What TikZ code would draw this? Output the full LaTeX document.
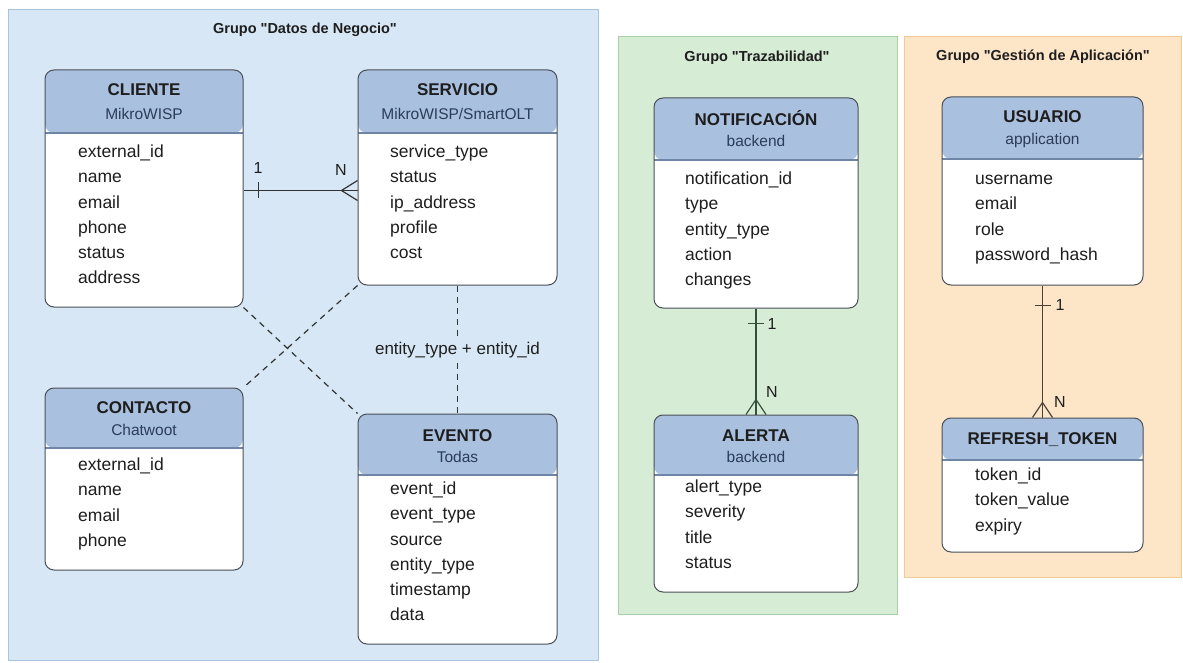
\documentclass[tikz,border=0pt]{standalone}
\usepackage{fontspec}
\setmainfont{Liberation Sans}
\usetikzlibrary{fit}
\definecolor{bluebg}{HTML}{D7E7F5}
\definecolor{blueedge}{HTML}{A9C5DE}
\definecolor{greenbg}{HTML}{D6ECD4}
\definecolor{greenedge}{HTML}{A9D0A6}
\definecolor{orangebg}{HTML}{FDE5C8}
\definecolor{orangeedge}{HTML}{F1C996}
\definecolor{headfill}{HTML}{A9C0DF}
\definecolor{headline}{HTML}{6E85A6}
\definecolor{boxline}{HTML}{4A4F57}
\definecolor{txt}{HTML}{1E1E1E}
\definecolor{subtxt}{HTML}{2B3C58}
\definecolor{rel}{HTML}{333333}
\definecolor{relgreen}{HTML}{35503A}
\definecolor{relbrown}{HTML}{4A4036}
\tikzset{
  group/.style={line width=1pt},
  grouptitle/.style={font=\fontsize{14.5}{16}\selectfont\bfseries, text=txt},
  entbox/.style={draw=boxline, line width=1pt, rounded corners=9pt, fill=white, inner sep=0pt,
    path picture={\fill[headfill] (path picture bounding box.north west) rectangle ([yshift=-#1]path picture bounding box.north east);
      \draw[headline, line width=1.6pt] ([yshift=-#1]path picture bounding box.north west) -- ([yshift=-#1]path picture bounding box.north east);}},
  enttitle/.style={font=\fontsize{17}{19}\selectfont\bfseries, text=txt},
  entsub/.style={font=\fontsize{15.5}{17}\selectfont, text=subtxt},
  field/.style={font=\fontsize{17.5}{19}\selectfont, text=txt, anchor=mid west, inner sep=0pt},
  relline/.style={draw=rel, line width=1.2pt},
  dashline/.style={draw=rel, line width=1.2pt, dash pattern=on 6pt off 5pt},
  card/.style={font=\fontsize{16}{18}\selectfont, text=txt, inner sep=1pt}
}
% #1 name, #2 left, #3 top, #4 right, #5 bottom, #6 header height
\newcommand\mkentity[6]{\node[entbox=#6pt, fit={(#2,#3) (#4,#5)}] (#1) {};}
% #1 x, #2 first y, #3 list
\newcommand\mkfields[3]{\foreach \f [count=\i from 0] in {#3} {\node[field] at (#1,{#2+25.2*\i}) {\f};}}
\begin{document}
\begin{tikzpicture}[x=1pt,y=-1pt]
\useasboundingbox (0,0) rectangle (1183,663);
\fill[white] (0,0) rectangle (1183,663);
% groups
\draw[group, fill=bluebg, draw=blueedge] (8,10) rectangle (598,660);
\node[grouptitle] (gt1) at (305,30) {Grupo \textquotedbl Datos de Negocio\textquotedbl};
\draw[group, fill=greenbg, draw=greenedge] (618,37) rectangle (897,614);
\node[grouptitle] (gt2) at (757,58) {Grupo \textquotedbl Trazabilidad\textquotedbl};
\draw[group, fill=orangebg, draw=orangeedge] (904,37) rectangle (1181,577);
\node[grouptitle] (gt3) at (1043,57) {Grupo \textquotedbl Gestión de Aplicación\textquotedbl};

% entities
\mkentity{cliente}{45}{70}{243}{307}{63}
\node[enttitle] (clienteT) at (144,90) {CLIENTE};
\node[entsub] (clienteS) at (144,114) {MikroWISP};
\mkfields{78}{155}{external\_id,name,email,phone,status,address}

\mkentity{servicio}{358}{70}{557}{285}{63}
\node[enttitle] (servicioT) at (457.5,90) {SERVICIO};
\node[entsub] (servicioS) at (457.5,114) {MikroWISP/SmartOLT};
\mkfields{390}{155}{service\_type,status,ip\_address,profile,cost}

\mkentity{contacto}{45}{388}{243}{570}{60}
\node[enttitle] (contactoT) at (144,408) {CONTACTO};
\node[entsub] (contactoS) at (144,430) {Chatwoot};
\mkfields{78}{468}{external\_id,name,email,phone}

\mkentity{evento}{358}{414}{557}{644}{61}
\node[enttitle] (eventoT) at (457.5,436) {EVENTO};
\node[entsub] (eventoS) at (457.5,457) {Todas};
\mkfields{390}{492}{event\_id,event\_type,source,entity\_type,timestamp,data}

\mkentity{notif}{654}{98}{858}{308}{62}
\node[enttitle] (notifT) at (756,118) {NOTIFICACIÓN};
\node[entsub] (notifS) at (756,141) {backend};
\mkfields{685}{182}{notification\_id,type,entity\_type,action,changes}

\mkentity{alerta}{654}{415}{858}{592}{60}
\node[enttitle] (alertaT) at (756,436) {ALERTA};
\node[entsub] (alertaS) at (756,457) {backend};
\mkfields{685}{490}{alert\_type,severity,title,status}

\mkentity{usuario}{942}{97}{1143}{285}{62}
\node[enttitle] (usuarioT) at (1042.5,117) {USUARIO};
\node[entsub] (usuarioS) at (1042.5,140) {application};
\mkfields{975}{182}{username,email,role,password\_hash}

\mkentity{refresh}{942}{418}{1143}{552}{42}
\node[enttitle] (refreshT) at (1042.5,440) {REFRESH\_TOKEN};
\mkfields{975}{478}{token\_id,token\_value,expiry}

% relations
\coordinate (csA) at ([yshift=-2pt]cliente.east);
\coordinate (csB) at (servicio.west |- csA);
\draw[relline] (csA) -- (csB);
\draw[relline] ([xshift=15pt]csA) ++(0,-8) -- ++(0,16);
\draw[relline] ([xshift=-16pt]csB) -- ++(16,-10) ([xshift=-16pt]csB) -- ++(16,10);
\node[card] (c1) at (258,168) {1};
\node[card] (cN) at (341,170) {N};

\draw[dashline] (cliente.south east) -- (evento.north west);
\draw[dashline] (servicio.south west) -- (contacto.north east);
\draw[dashline] (servicio.south) -- (evento.north);
\node[fill=bluebg, font=\fontsize{17}{19}\selectfont, text=txt, inner sep=2pt] (lbl) at (457.5,350) {entity\_type + entity\_id};

\draw[relline, draw=relgreen] (notif.south) -- (alerta.north);
\draw[relline, draw=relgreen] ([yshift=-15pt]notif.south) ++(-8,0) -- ++(16,0);
\draw[relline, draw=relgreen] ([yshift=15pt]alerta.north) -- ++(-10,15) ([yshift=15pt]alerta.north) -- ++(10,15);
\node[card] (n1) at (772,324) {1};
\node[card] (nN) at (772,392) {N};

\draw[relline, draw=relbrown] (usuario.south) -- (refresh.north);
\draw[relline, draw=relbrown] ([yshift=-20pt]usuario.south) ++(-8,0) -- ++(16,0);
\draw[relline, draw=relbrown] ([yshift=15pt]refresh.north) -- ++(-10,15) ([yshift=15pt]refresh.north) -- ++(10,15);
\node[card] (u1) at (1060,305) {1};
\node[card] (uN) at (1060,402) {N};
\end{tikzpicture}
\end{document}
